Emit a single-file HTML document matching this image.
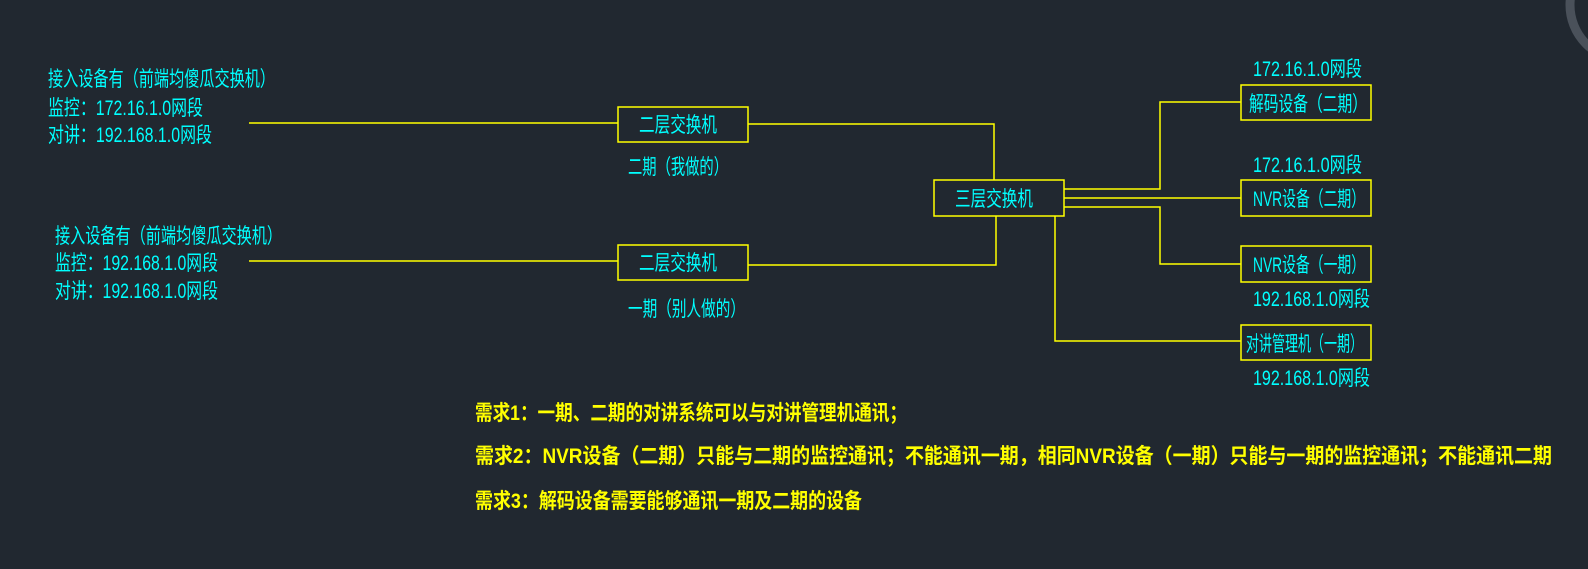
<!DOCTYPE html>
<html><head><meta charset="utf-8"><style>
html,body{margin:0;padding:0;background:#212830;}
svg{display:block;}
text{font-family:"Liberation Sans","Noto Sans CJK SC",sans-serif;font-size:21px;}
.c{fill:#00ffff;}
.y{fill:#ffff00;font-size:22px;font-weight:bold;}
</style></head><body>
<svg width="1588" height="569" viewBox="0 0 1588 569" xmlns="http://www.w3.org/2000/svg">
<rect width="1588" height="569" fill="#212830"/>
<circle cx="1625" cy="5" r="55" fill="none" stroke="#4a515a" stroke-width="9"/>
<g fill="none" stroke="#ffff00" stroke-width="1.5">
<line x1="249" y1="123" x2="618" y2="123"/>
<line x1="249" y1="261" x2="618" y2="261"/>
<rect x="618" y="107" width="130" height="35"/>
<rect x="618" y="245" width="130" height="35"/>
<polyline points="748,124 994,124 994,180"/>
<polyline points="748,265 996,265 996,216"/>
<rect x="934" y="180" width="130" height="36"/>
<polyline points="1064,189 1160,189 1160,102 1241,102"/>
<line x1="1064" y1="198" x2="1241" y2="198"/>
<polyline points="1064,207 1160,207 1160,264 1241,264"/>
<polyline points="1055,216 1055,341 1241,341"/>
<rect x="1241" y="85" width="130" height="35"/>
<rect x="1241" y="180" width="130" height="36"/>
<rect x="1241" y="246" width="130" height="36"/>
<rect x="1241" y="325" width="130" height="35"/>
</g>
<g class="c">
<text x="48" y="86" textLength="227" lengthAdjust="spacingAndGlyphs">接入设备有（前端均傻瓜交换机）</text>
<text x="48" y="115" textLength="155" lengthAdjust="spacingAndGlyphs">监控：172.16.1.0网段</text>
<text x="48" y="142" textLength="164" lengthAdjust="spacingAndGlyphs">对讲：192.168.1.0网段</text>
<text x="55" y="243" textLength="227" lengthAdjust="spacingAndGlyphs">接入设备有（前端均傻瓜交换机）</text>
<text x="55" y="270" textLength="163" lengthAdjust="spacingAndGlyphs">监控：192.168.1.0网段</text>
<text x="55" y="298" textLength="163" lengthAdjust="spacingAndGlyphs">对讲：192.168.1.0网段</text>
<text x="639" y="132" textLength="78" lengthAdjust="spacingAndGlyphs">二层交换机</text>
<text x="639" y="270" textLength="78" lengthAdjust="spacingAndGlyphs">二层交换机</text>
<text x="628" y="174" textLength="100" lengthAdjust="spacingAndGlyphs">二期（我做的）</text>
<text x="628" y="316" textLength="117" lengthAdjust="spacingAndGlyphs">一期（别人做的）</text>
<text x="955" y="206" textLength="78" lengthAdjust="spacingAndGlyphs">三层交换机</text>
<text x="1249" y="111" textLength="118" lengthAdjust="spacingAndGlyphs">解码设备（二期）</text>
<text x="1253" y="206" textLength="112" lengthAdjust="spacingAndGlyphs">NVR设备（二期）</text>
<text x="1253" y="272" textLength="112" lengthAdjust="spacingAndGlyphs">NVR设备（一期）</text>
<text x="1246" y="351" textLength="117" lengthAdjust="spacingAndGlyphs">对讲管理机（一期）</text>
<text x="1253" y="76" textLength="109" lengthAdjust="spacingAndGlyphs">172.16.1.0网段</text>
<text x="1253" y="172" textLength="109" lengthAdjust="spacingAndGlyphs">172.16.1.0网段</text>
<text x="1253" y="306" textLength="117" lengthAdjust="spacingAndGlyphs">192.168.1.0网段</text>
<text x="1253" y="385" textLength="117" lengthAdjust="spacingAndGlyphs">192.168.1.0网段</text>
</g>
<g class="y">
<text x="475" y="420" textLength="432" lengthAdjust="spacingAndGlyphs">需求1：一期、二期的对讲系统可以与对讲管理机通讯；</text>
<text x="475" y="463" textLength="1077" lengthAdjust="spacingAndGlyphs">需求2：NVR设备（二期）只能与二期的监控通讯；不能通讯一期，相同NVR设备（一期）只能与一期的监控通讯；不能通讯二期</text>
<text x="475" y="508" textLength="387" lengthAdjust="spacingAndGlyphs">需求3：解码设备需要能够通讯一期及二期的设备</text>
</g>
</svg>
</body></html>
